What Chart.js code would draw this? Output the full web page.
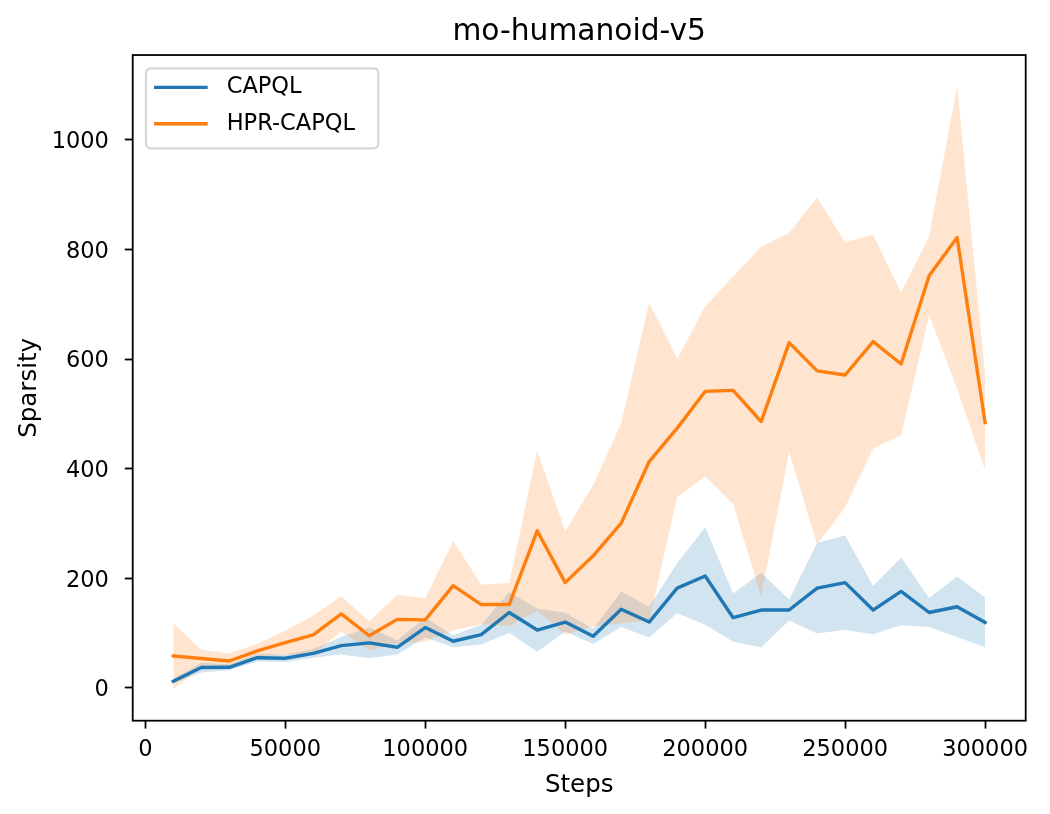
<!DOCTYPE html>
<html>
<head>
<meta charset="utf-8">
<script src="https://cdn.jsdelivr.net/npm/chart.js@4.4.0/dist/chart.umd.min.js"></script>
<style>
html,body{margin:0;padding:0;background:#ffffff;}
#wrap{width:1050px;height:814px;position:relative;}
canvas{display:block;}
</style>
</head>
<body>
<div id="wrap"><canvas id="c" width="1050" height="814"></canvas></div>
<script>
// ---------------- data ----------------
const chartTitle = 'mo-humanoid-v5';
const xAxisTitle = 'Steps';
const yAxisTitle = 'Sparsity';
const seriesNames = ['CAPQL', 'HPR-CAPQL'];

const steps = [10000, 20000, 30000, 40000, 50000, 60000, 70000, 80000, 90000, 100000,
  110000, 120000, 130000, 140000, 150000, 160000, 170000, 180000, 190000, 200000,
  210000, 220000, 230000, 240000, 250000, 260000, 270000, 280000, 290000, 300000];

const capqlMean  = [12, 37, 37.5, 55, 54, 63, 77, 82, 74, 110, 85, 97, 137.5, 105.5, 120, 94, 143.5, 120, 182, 204, 128, 142, 142, 182, 192, 142, 176, 137.5, 148, 119.5];
const capqlUpper = [16, 46, 43, 62, 61, 71, 93, 110, 87, 128, 96, 115, 175, 145, 137, 108, 176, 148, 228, 293, 172, 210, 161, 265, 278, 186, 238, 164, 203, 165];
const capqlLower = [8, 28, 32, 48, 47, 55, 61, 54, 61, 92, 74, 79, 100, 66, 103, 80, 111, 92, 136, 115, 84, 74, 123, 99, 106, 98, 114, 111, 93, 74];

const hprMean  = [58, 53.5, 49, 67.5, 82.5, 96.5, 135, 95, 125, 124, 186.5, 152, 152, 286.5, 192, 241, 300.5, 413, 474, 541, 543, 486, 630, 578.5, 571, 632, 591, 752, 822, 484];
const hprUpper = [118, 70, 62.5, 80.5, 104, 132, 167, 121.5, 170, 163.5, 268, 188, 191.5, 432.5, 286, 370, 483, 703, 600, 696, 751, 805, 830, 895, 813, 827, 721, 824, 1098, 571];
const hprLower = [-2, 37, 35.5, 54.5, 61, 61, 103, 68.5, 80, 84.5, 105, 116, 112.5, 140.5, 98, 112, 118, 123, 348, 386, 335, 167, 430, 262, 329, 437, 461, 680, 546, 397];

const xTickValues = [0, 50000, 100000, 150000, 200000, 250000, 300000];
const yTickValues = [0, 200, 400, 600, 800, 1000];

// ---------------- styles ----------------
const BLUE = '#1f77b4';
const ORANGE = '#ff7f0e';
const BLUE_FILL = 'rgba(31,119,180,0.2)';
const ORANGE_FILL = 'rgba(255,127,14,0.2)';
const FONT = "'DejaVu Sans', sans-serif";
const TICK_SIZE = 22.5;
const LABEL_SIZE = 24.5;
const TITLE_SIZE = 29.7;
const LINE_W = 3.375;

const pts = arr => steps.map((s, i) => ({x: s, y: arr[i]}));

function bandDataset(arr, fill, color) {
  return {
    data: pts(arr), borderWidth: 0, borderColor: 'rgba(0,0,0,0)',
    pointRadius: 0, fill: fill, backgroundColor: color, tension: 0
  };
}
function lineDataset(label, arr, color) {
  return {
    label: label, data: pts(arr), borderColor: color, borderWidth: LINE_W,
    pointRadius: 0, fill: false, tension: 0,
    borderJoinStyle: 'round', borderCapStyle: 'square'
  };
}

// frame (all four spines)
const framePlugin = {
  id: 'frame',
  afterDatasetsDraw(chart) {
    const {ctx, chartArea: a} = chart;
    ctx.save();
    ctx.strokeStyle = '#000';
    ctx.lineWidth = 1.8;
    ctx.strokeRect(a.left, a.top, a.right - a.left, a.bottom - a.top);
    ctx.restore();
  }
};

// matplotlib-style legend inside the axes (upper left)
const legendPlugin = {
  id: 'mplLegend',
  afterDraw(chart) {
    const {ctx, chartArea: a} = chart;
    const x = a.left + 13.3, y = a.top + 13.3, w = 232.3, h = 80, r = 5;
    ctx.save();
    ctx.beginPath();
    ctx.moveTo(x + r, y);
    ctx.lineTo(x + w - r, y); ctx.quadraticCurveTo(x + w, y, x + w, y + r);
    ctx.lineTo(x + w, y + h - r); ctx.quadraticCurveTo(x + w, y + h, x + w - r, y + h);
    ctx.lineTo(x + r, y + h); ctx.quadraticCurveTo(x, y + h, x, y + h - r);
    ctx.lineTo(x, y + r); ctx.quadraticCurveTo(x, y, x + r, y);
    ctx.closePath();
    ctx.fillStyle = 'rgba(255,255,255,0.8)';
    ctx.fill();
    ctx.strokeStyle = 'rgba(204,204,204,0.8)';
    ctx.lineWidth = 2.25;
    ctx.stroke();
    const colors = [BLUE, ORANGE];
    const rowY = [a.top + 32.3, a.top + 68.7];
    seriesNames.forEach((name, k) => {
      ctx.beginPath();
      ctx.strokeStyle = colors[k];
      ctx.lineWidth = LINE_W;
      ctx.lineCap = 'butt';
      ctx.moveTo(x + 8, rowY[k]);
      ctx.lineTo(x + 61.7, rowY[k]);
      ctx.stroke();
      ctx.fillStyle = '#000';
      ctx.font = TICK_SIZE + 'px ' + FONT;
      ctx.textBaseline = 'middle';
      ctx.textAlign = 'left';
      ctx.fillText(name, x + 80.7, rowY[k]);
    });
    ctx.restore();
  }
};

const ctx = document.getElementById('c').getContext('2d');
new Chart(ctx, {
  type: 'line',
  data: {
    datasets: [
      lineDataset(seriesNames[1], hprMean, ORANGE),
      lineDataset(seriesNames[0], capqlMean, BLUE),
      bandDataset(hprUpper, false, ORANGE_FILL),
      bandDataset(hprLower, '-1', ORANGE_FILL),
      bandDataset(capqlUpper, false, BLUE_FILL),
      bandDataset(capqlLower, '-1', BLUE_FILL)
    ]
  },
  options: {
    responsive: false,
    animation: false,
    devicePixelRatio: 1,
    events: [],
    layout: {padding: {left: 0, top: 0, right: 24.3, bottom: 0}},
    plugins: {
      legend: {display: false},
      tooltip: {enabled: false},
      filler: {drawTime: 'beforeDatasetsDraw', propagate: false},
      title: {
        display: true, text: chartTitle, fullSize: false, color: '#000',
        font: {family: FONT, size: TITLE_SIZE, weight: 'normal', lineHeight: 1.2},
        padding: {top: 14, bottom: 5.4}
      }
    },
    scales: {
      x: {
        type: 'linear', min: -4500, max: 314500,
        afterFit: s => { s.height = 93.3; },
        afterBuildTicks: s => { s.ticks = xTickValues.map(v => ({value: v})); },
        grid: {display: true, drawOnChartArea: false, drawTicks: true, tickLength: 7.9, tickWidth: 1.8, tickColor: '#000'},
        border: {display: false},
        ticks: {
          color: '#000', font: {family: FONT, size: TICK_SIZE}, padding: 7.9,
          maxRotation: 0, autoSkip: false,
          callback: v => String(v)
        },
        title: {display: true, text: xAxisTitle, color: '#000',
          font: {family: FONT, size: LABEL_SIZE, lineHeight: 1.2}, padding: {top: 0, bottom: 13.6}}
      },
      y: {
        type: 'linear', min: -60, max: 1155,
        afterFit: s => { s.width = 132.7; },
        afterBuildTicks: s => { s.ticks = yTickValues.map(v => ({value: v})); },
        grid: {display: true, drawOnChartArea: false, drawTicks: true, tickLength: 7.9, tickWidth: 1.8, tickColor: '#000'},
        border: {display: false},
        ticks: {
          color: '#000', font: {family: FONT, size: TICK_SIZE}, padding: 15.9,
          labelOffset: 2.5,
          autoSkip: false, callback: v => String(v)
        },
        title: {display: true, text: yAxisTitle, color: '#000',
          font: {family: FONT, size: LABEL_SIZE, lineHeight: 1.2}, padding: {top: 14.9, bottom: 0}}
      }
    }
  },
  plugins: [framePlugin, legendPlugin]
});
</script>
</body>
</html>
